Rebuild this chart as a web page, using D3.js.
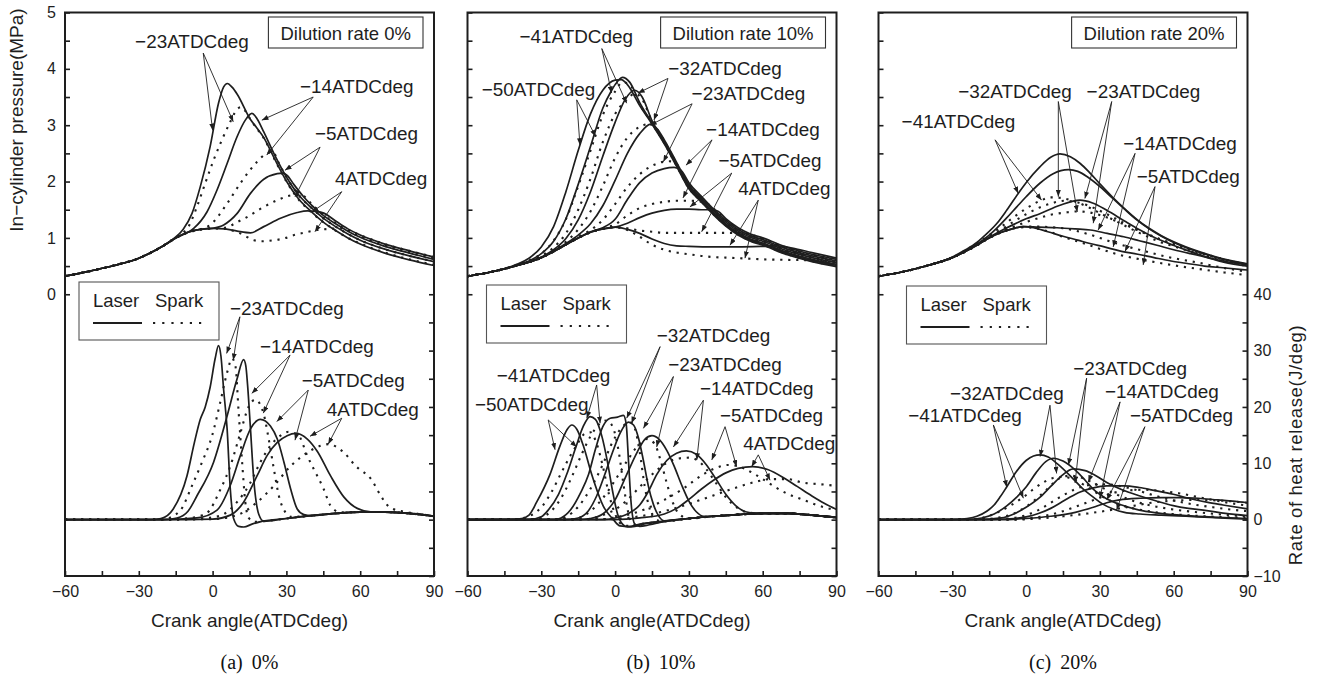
<!DOCTYPE html>
<html><head><meta charset="utf-8">
<script src="https://cdn.jsdelivr.net/npm/d3@7"></script>
<style>body{margin:0;background:#fff}svg{display:block}</style>
</head><body>
<svg id="chart" width="1317" height="682"></svg>
<script>
// ---------- ticks / labels ----------
const crankTicks = [-60,-45,-30,-15,0,15,30,45,60,75,90];
const crankLabels = [-60,-30,0,30,60,90];
const pressureTicks = [0,0.5,1,1.5,2,2.5,3,3.5,4,4.5,5];
const pressureLabels = [0,1,2,3,4,5];
const heatTicks = [-10,-5,0,5,10,15,20,25,30,35,40];
const heatLabels = [-10,0,10,20,30,40];
const dilutionLabels = ["Dilution rate 0%","Dilution rate 10%","Dilution rate 20%"];
const panelCaptions = ["(a) 0%","(b) 10%","(c) 20%"];
const legendNames = ["Laser","Spark"];
const xTitle = "Crank angle(ATDCdeg)";
const yLeftTitle = "In\u2212cylinder pressure(MPa)";
const yRightTitle = "Rate of heat release(J/deg)";

// ---------- panel (a) 0% : pressure [crank angle, MPa] ----------
const pA_laser_m23=[[-60,0.32],[-50,0.41],[-40,0.51],[-30,0.64],[-25,0.74],[-20,0.86],[-16,0.98],[-12,1.15],[-8.4,1.43],[-5,1.91],[-1,2.62],[2.4,3.39],[4.5,3.68],[6,3.74],[8,3.67],[10,3.55],[15.4,3.10],[18,2.95],[20.8,2.78],[25,2.42],[30,2.01],[35,1.69],[40,1.47],[45,1.28],[50,1.13],[55,1.00],[60,0.89],[70,0.73],[80,0.61],[90,0.51]];
const pA_laser_m14=[[-60,0.32],[-50,0.41],[-40,0.51],[-30,0.64],[-25,0.74],[-20,0.86],[-15,1.00],[-10,1.10],[-7.7,1.17],[-2.3,1.46],[1.8,1.85],[5.9,2.32],[9.9,2.79],[13.3,3.09],[16,3.21],[18,3.12],[20.8,2.88],[25,2.49],[30,2.08],[35,1.76],[40,1.54],[45,1.35],[50,1.20],[55,1.07],[60,0.96],[70,0.80],[80,0.68],[90,0.58]];
const pA_laser_m5=[[-60,0.32],[-50,0.41],[-40,0.51],[-30,0.64],[-25,0.74],[-20,0.86],[-15,1.00],[-10,1.10],[-5,1.15],[0,1.17],[4.5,1.23],[9.9,1.43],[15.4,1.79],[20.8,2.04],[26.3,2.14],[28.5,2.15],[30.3,2.11],[33,1.95],[37,1.73],[40,1.59],[45,1.40],[50,1.25],[55,1.12],[60,1.01],[70,0.85],[80,0.73],[90,0.62]];
const pA_laser_4=[[-60,0.32],[-50,0.41],[-40,0.51],[-30,0.64],[-25,0.74],[-20,0.86],[-15,1.00],[-10,1.10],[-5,1.15],[0,1.17],[5,1.16],[10,1.12],[15.4,1.09],[20.8,1.20],[27.6,1.35],[34.4,1.45],[38.5,1.48],[42,1.47],[45.2,1.44],[50,1.30],[55,1.16],[60,1.05],[70,0.89],[80,0.77],[90,0.66]];
const pA_spark_m23=[[-60,0.32],[-50,0.41],[-40,0.51],[-30,0.64],[-25,0.74],[-20,0.86],[-15,1.00],[-12,1.09],[-9.8,1.20],[-6.4,1.55],[-3,1.97],[0.4,2.38],[3.8,2.74],[7.2,3.06],[9.7,3.27],[11.5,3.32],[13.5,3.24],[15.4,3.10],[18,2.94],[20.8,2.77],[25,2.41],[30,2.00],[35,1.68],[40,1.46],[45,1.28],[50,1.13],[55,1.00],[60,0.90],[70,0.74],[80,0.62],[90,0.52]];
const pA_spark_m14=[[-60,0.32],[-50,0.41],[-40,0.51],[-30,0.64],[-25,0.74],[-20,0.86],[-15,1.00],[-10,1.10],[-5,1.15],[-1,1.23],[5.9,1.61],[11.3,1.97],[18.1,2.35],[22,2.50],[24.5,2.52],[27,2.32],[30,2.08],[35,1.76],[40,1.54],[45,1.35],[50,1.20],[55,1.07],[60,0.96],[70,0.80],[80,0.68],[90,0.58]];
const pA_spark_m5=[[-60,0.32],[-50,0.41],[-40,0.51],[-30,0.64],[-25,0.74],[-20,0.86],[-15,1.00],[-10,1.10],[-5,1.15],[0,1.17],[5,1.18],[10,1.28],[14,1.37],[20.8,1.55],[26.3,1.67],[33.1,1.76],[36,1.76],[38,1.71],[40,1.61],[45,1.41],[50,1.26],[55,1.13],[60,1.02],[70,0.86],[80,0.74],[90,0.63]];
const pA_spark_4=[[-60,0.32],[-50,0.41],[-40,0.51],[-30,0.64],[-25,0.74],[-20,0.86],[-15,1.00],[-10,1.10],[-5,1.15],[0,1.17],[5,1.16],[8,1.13],[11.3,1.08],[16.8,0.96],[20,0.94],[24.9,0.96],[29,0.99],[33.1,1.05],[37,1.09],[42.6,1.14],[47.9,1.16],[51,1.17],[55,1.14],[60,1.05],[70,0.89],[80,0.77],[90,0.66]];
// ---------- panel (a) : heat release [crank angle, J/deg] ----------
const hA_laser_m23=[[-60,0],[-40,0],[-25,0],[-21,0.2],[-16,1.9],[-10.4,7.8],[-7.5,13.5],[-5,17.8],[-3,20.0],[-1,23.5],[1,28.5],[2.4,30.9],[3.4,29.0],[4.5,23.0],[5.9,16.1],[7.2,5.4],[8.6,0.1],[10.6,-1.2],[12.7,-1.3],[16,-0.8],[20,-0.3],[30,0.2],[40,0.7],[50,1.1],[60,1.35],[70,1.35],[80,1.1],[90,0.6]];
const hA_laser_m14=[[-60,0],[-40,0],[-20,0],[-14.5,0.3],[-10,1.5],[-6.4,4.2],[0.4,10.2],[5.9,18.4],[9.9,24.9],[12.6,28.4],[13.5,27.3],[14.2,24.0],[15.4,16.1],[16.7,7.3],[18.8,0.9],[20.8,-0.3],[30,0.2],[40,0.7],[50,1.1],[60,1.35],[70,1.35],[80,1.1],[90,0.6]];
const hA_laser_m5=[[-60,0],[-40,0],[-20,0],[-6.4,0.3],[1.8,1.7],[7.2,6.1],[11.3,11.4],[15.4,16.1],[19.4,17.8],[23.5,16.6],[26.3,14.3],[29,10.2],[31.7,5.5],[34.4,1.9],[37.1,0.9],[40,0.7],[50,1.1],[60,1.35],[70,1.35],[80,1.1],[90,0.6]];
const hA_laser_4=[[-60,0],[-40,0],[-20,0],[0,0.1],[7.2,0.8],[12.6,3.1],[18.1,7.8],[22.2,11.4],[26.3,13.7],[30.3,14.9],[33.8,15.3],[38.5,14.3],[42.6,12.1],[47.9,7.8],[53.4,4.0],[58.8,2.0],[64.2,1.4],[70,1.35],[80,1.1],[90,0.6]];
const hA_spark_m23=[[-60,0],[-40,0],[-25,0],[-19.8,0.1],[-13.2,1.6],[-8.4,6.0],[-4.3,10.2],[-0.2,14.9],[3.1,20.8],[5.9,26.1],[7.9,28.6],[9.3,27.2],[10.6,19.0],[12.0,10.2],[13.3,3.1],[14.7,0.3],[17,-0.4],[20,-0.3],[30,0.2],[40,0.7],[50,1.1],[60,1.35],[70,1.35],[80,1.1],[90,0.6]];
const hA_spark_m14=[[-60,0],[-40,0],[-20,0],[-9,0.3],[-2.3,1.2],[3.1,5.3],[7.2,9.5],[11.3,15.4],[14.7,20.1],[17.4,21.3],[20.8,18.7],[22.8,14.3],[24.9,9.0],[26.9,4.3],[29.6,1.3],[32,0.5],[40,0.7],[50,1.1],[60,1.35],[70,1.35],[80,1.1],[90,0.6]];
const hA_spark_m5=[[-60,0],[-40,0],[-20,0],[-5,0.2],[3.1,0.7],[9.9,3.1],[15.4,6.6],[19.4,10.2],[23.5,13.1],[27.6,14.9],[31,15.6],[35,14.9],[38.5,11.3],[41.1,9.0],[45.2,5.4],[47.9,2.5],[52,1.3],[60,1.35],[70,1.35],[80,1.1],[90,0.6]];
const hA_spark_4=[[-60,0],[-40,0],[-20,0],[0,0.1],[9.9,0.8],[18.1,3.1],[24.9,6.0],[31.7,9.5],[38.5,11.9],[43.9,13.1],[47.3,13.4],[50,13.0],[53.4,11.9],[58,9.6],[64.9,6.9],[68,4.5],[72,2.2],[78,1.4],[84,1.0],[90,0.6]];

// ---------- panel (b) 10% : pressure ----------
const pB_laser_m50=[[-60,0.32],[-50,0.40],[-45,0.45],[-40,0.53],[-35,0.64],[-30,0.84],[-25,1.20],[-20,1.82],[-15,2.55],[-10,3.20],[-5,3.62],[0,3.80],[2.5,3.81],[5,3.72],[10,3.35],[15,3.02],[20,2.67],[25,2.27],[30,1.87],[35,1.64],[40,1.41],[45,1.21],[50,1.05],[55,0.94],[60,0.87],[70,0.70],[80,0.58],[90,0.49]];
const pB_laser_m41=[[-60,0.32],[-50,0.40],[-40,0.51],[-35,0.59],[-30,0.72],[-25,0.94],[-20,1.34],[-15,1.95],[-10,2.62],[-5,3.30],[-1.4,3.62],[0,3.72],[3,3.85],[6,3.76],[10,3.40],[15,3.04],[20,2.69],[25,2.29],[30,1.89],[35,1.66],[40,1.43],[45,1.23],[50,1.07],[55,0.96],[60,0.89],[70,0.72],[80,0.60],[90,0.51]];
const pB_laser_m32=[[-60,0.32],[-50,0.40],[-40,0.51],[-30,0.66],[-25,0.79],[-20,0.99],[-15,1.32],[-10,1.82],[-5,2.45],[0,3.05],[4,3.45],[8,3.62],[11,3.50],[15,3.08],[20,2.71],[25,2.31],[30,1.91],[35,1.68],[40,1.45],[45,1.25],[50,1.09],[55,0.98],[60,0.91],[70,0.74],[80,0.62],[90,0.53]];
const pB_laser_m23=[[-60,0.32],[-50,0.40],[-40,0.51],[-30,0.65],[-20,0.90],[-15,1.05],[-10,1.25],[-5,1.57],[0,2.02],[5,2.50],[10,2.85],[14.5,3.02],[17,2.94],[20,2.74],[25,2.34],[30,1.94],[35,1.71],[40,1.48],[45,1.28],[50,1.12],[55,1.01],[60,0.94],[70,0.77],[80,0.65],[90,0.56]];
const pB_laser_m14=[[-60,0.32],[-50,0.40],[-40,0.51],[-30,0.65],[-20,0.88],[-15,1.00],[-10,1.11],[-5,1.18],[0,1.33],[5,1.68],[10,1.98],[15,2.15],[20,2.23],[24,2.25],[27,2.19],[30,1.98],[35,1.74],[40,1.51],[45,1.31],[50,1.15],[55,1.04],[60,0.97],[70,0.80],[80,0.68],[90,0.59]];
const pB_laser_m5=[[-60,0.32],[-50,0.40],[-40,0.51],[-30,0.65],[-20,0.88],[-15,1.00],[-10,1.10],[-5,1.16],[0,1.19],[5,1.26],[10,1.36],[15,1.44],[20,1.49],[25,1.51],[30,1.51],[35,1.50],[40,1.50],[42,1.47],[45,1.34],[50,1.18],[55,1.07],[60,1.00],[70,0.83],[80,0.71],[90,0.62]];
const pB_laser_4=[[-60,0.32],[-50,0.40],[-40,0.51],[-30,0.65],[-20,0.88],[-15,1.00],[-10,1.10],[-5,1.16],[0,1.19],[5,1.15],[10,1.08],[15,0.98],[20,0.90],[25,0.86],[30,0.85],[40,0.84],[50,0.84],[60,0.85],[66,0.86],[72,0.82],[80,0.74],[90,0.64]];
const pB_spark_m50=[[-60,0.32],[-50,0.40],[-40,0.52],[-35,0.60],[-30,0.72],[-25,0.95],[-20,1.33],[-15,1.92],[-10,2.55],[-5,3.18],[0,3.60],[3,3.76],[5.5,3.74],[10,3.37],[15,3.03],[20,2.68],[25,2.28],[30,1.88],[35,1.65],[40,1.42],[45,1.22],[50,1.06],[55,0.95],[60,0.88],[70,0.71],[80,0.59],[90,0.50]];
const pB_spark_m41=[[-60,0.32],[-50,0.40],[-40,0.51],[-30,0.68],[-25,0.83],[-20,1.08],[-15,1.50],[-10,2.05],[-5,2.70],[0,3.20],[4.7,3.45],[8,3.56],[11,3.46],[15,3.06],[20,2.70],[25,2.30],[30,1.90],[35,1.67],[40,1.44],[45,1.24],[50,1.08],[55,0.97],[60,0.90],[70,0.73],[80,0.61],[90,0.52]];
const pB_spark_m32=[[-60,0.32],[-50,0.40],[-40,0.51],[-30,0.65],[-25,0.77],[-20,0.93],[-15,1.15],[-10,1.47],[-5,1.92],[0,2.42],[5,2.78],[10,2.97],[14,3.02],[17,2.93],[20,2.72],[25,2.32],[30,1.92],[35,1.69],[40,1.46],[45,1.26],[50,1.10],[55,0.99],[60,0.92],[70,0.75],[80,0.63],[90,0.54]];
const pB_spark_m23=[[-60,0.32],[-50,0.40],[-40,0.51],[-30,0.65],[-20,0.89],[-15,1.02],[-10,1.14],[-5,1.32],[0,1.60],[5,1.90],[10,2.13],[15,2.28],[19.6,2.35],[22,2.36],[24,2.35],[26,2.24],[30,1.95],[35,1.72],[40,1.49],[45,1.29],[50,1.13],[55,1.02],[60,0.95],[70,0.78],[80,0.66],[90,0.57]];
const pB_spark_m14=[[-60,0.32],[-50,0.40],[-40,0.51],[-30,0.65],[-20,0.88],[-15,1.00],[-10,1.10],[-5,1.17],[0,1.24],[5,1.40],[10,1.53],[15,1.60],[20,1.64],[25,1.66],[30,1.66],[34,1.65],[37,1.62],[40,1.52],[45,1.32],[50,1.16],[55,1.05],[60,0.98],[70,0.81],[80,0.69],[90,0.60]];
const pB_spark_m5=[[-60,0.32],[-50,0.40],[-40,0.51],[-30,0.65],[-20,0.88],[-15,1.00],[-10,1.10],[-5,1.16],[0,1.19],[5,1.17],[10,1.13],[15,1.11],[20,1.09],[30,1.09],[40,1.09],[50,1.09],[53,1.08],[55,1.06],[60,0.99],[70,0.82],[80,0.70],[90,0.61]];
const pB_spark_4=[[-60,0.32],[-50,0.40],[-40,0.51],[-30,0.65],[-20,0.88],[-15,1.00],[-10,1.10],[-5,1.16],[0,1.19],[5,1.14],[10,1.02],[15,0.88],[20,0.79],[25,0.74],[30,0.71],[35,0.68],[40,0.66],[45,0.65],[50,0.64],[55,0.63],[60,0.62],[70,0.61],[80,0.60],[90,0.57]];
// ---------- panel (b) : heat release ----------
const hB_laser_m50=[[-60,0],[-45,0],[-38,0.2],[-35,0.8],[-31.9,3.1],[-26.5,8.0],[-22.4,13.1],[-19.5,16.0],[-17.6,16.8],[-15.5,16.0],[-12.9,13.1],[-9.5,8.0],[-4.8,2.4],[-0.7,0],[2,-1.1],[6,-1.2],[10,-0.8],[20,-0.3],[30,0.2],[40,0.6],[50,0.9],[60,1.1],[70,1.1],[80,0.8],[90,0.4]];
const hB_laser_m41=[[-60,0],[-35,0],[-30,0.5],[-27,1.8],[-23,4.5],[-19.7,8.0],[-16,12.8],[-13,16.5],[-10.2,18.3],[-8,17.8],[-5.5,15.0],[-3,10.0],[-1,5.0],[1,1.0],[3,-0.8],[5,-1.3],[8,-1.2],[12,-0.7],[20,-0.3],[30,0.2],[40,0.6],[50,0.9],[60,1.1],[70,1.1],[80,0.8],[90,0.4]];
const hB_laser_m32=[[-60,0],[-25,0],[-22,0.3],[-18,1.8],[-14,4.8],[-10.8,8.0],[-8,12.5],[-5,16.5],[-2,18.0],[1,18.2],[3.4,18.5],[4.5,17.0],[5.5,10.0],[6.5,3.0],[8,-0.8],[10,-1.2],[14,-0.9],[20,-0.3],[30,0.2],[40,0.6],[50,0.9],[60,1.1],[70,1.1],[80,0.8],[90,0.4]];
const hB_laser_m23=[[-60,0],[-20,0],[-15,0.3],[-11,1.5],[-7.5,4.2],[-4.2,8.0],[-1,12.0],[2,15.3],[5.4,17.3],[7.5,16.8],[9.5,14.5],[11.5,10.5],[13.5,6.0],[15.5,2.8],[17.5,0.8],[20,-0.2],[30,0.2],[40,0.6],[50,0.9],[60,1.1],[70,1.1],[80,0.8],[90,0.4]];
const hB_laser_m14=[[-60,0],[-15,0],[-10,0.2],[-5,1.0],[0,3.5],[4.7,8.0],[9,12.0],[12,14.2],[15,14.9],[18,14.2],[21,12.3],[24,9.5],[27,6.2],[30,3.3],[33,1.4],[36,0.6],[40,0.6],[50,0.9],[60,1.1],[70,1.1],[80,0.8],[90,0.4]];
const hB_laser_m5=[[-60,0],[-5,0],[0,0.3],[5,1.0],[10,2.6],[13.5,5.0],[16.9,8.0],[21,10.5],[25,11.8],[29,12.2],[33,11.6],[37,9.8],[41,7.2],[45,4.5],[49,2.5],[53,1.4],[58,1.1],[70,1.1],[80,0.8],[90,0.4]];
const hB_laser_4=[[-60,0],[0,0],[10,0.3],[20,1.0],[25,2.0],[30,3.6],[35,5.4],[40,7.0],[45,8.3],[50,9.1],[56,9.4],[62,8.9],[69,7.3],[74,5.9],[80,4.2],[85,2.9],[90,1.8]];
const hB_spark_m50=[[-60,0],[-42,0],[-34,0.8],[-30,2.2],[-26,4.8],[-22,8.2],[-18,11.5],[-15.6,13.2],[-12.5,15.2],[-10,15.5],[-7.5,13.5],[-5,9.5],[-2.5,4.5],[0,1.0],[2.5,-0.8],[5,-1.1],[10,-0.8],[20,-0.3],[30,0.2],[40,0.6],[50,0.9],[60,1.1],[70,1.1],[80,0.8],[90,0.4]];
const hB_spark_m41=[[-60,0],[-35,0],[-30,0.4],[-26,1.5],[-22,3.8],[-18,7.2],[-14,11.2],[-10,14.8],[-6.1,17.1],[-3.5,17.6],[-1,16.5],[1.5,12.0],[3.5,6.0],[5,2.0],[6.5,-0.5],[8,-1.1],[12,-0.8],[20,-0.3],[30,0.2],[40,0.6],[50,0.9],[60,1.1],[70,1.1],[80,0.8],[90,0.4]];
const hB_spark_m32=[[-60,0],[-25,0],[-20,0.5],[-15,2.3],[-10,5.5],[-5,9.8],[-1,13.8],[3,16.5],[6,17.3],[8,16.2],[10,12.0],[12,6.0],[14,2.0],[16,0],[20,-0.3],[30,0.2],[40,0.6],[50,0.9],[60,1.1],[70,1.1],[80,0.8],[90,0.4]];
const hB_spark_m23=[[-60,0],[-20,0],[-15,0.3],[-10,1.5],[-5,3.8],[0,7.0],[5,10.5],[10,13.5],[13,14.3],[16,13.5],[18.5,10.5],[21,6.5],[23.5,3.0],[26,1.0],[30,0.2],[40,0.6],[50,0.9],[60,1.1],[70,1.1],[80,0.8],[90,0.4]];
const hB_spark_m14=[[-60,0],[-15,0],[-10,0.2],[-5,0.8],[0,1.8],[5,3.5],[10,5.8],[15,8.0],[20,9.8],[25,10.8],[30,11.0],[33.2,10.6],[37,9.0],[41,6.5],[45,4.0],[50,2.0],[55,1.2],[60,1.1],[70,1.1],[80,0.8],[90,0.4]];
const hB_spark_m5=[[-60,0],[-5,0.1],[0,0.4],[10,1.5],[20,3.5],[28,5.6],[35,7.8],[40,9.0],[46,9.7],[50,9.5],[55,8.5],[60,7.2],[65,5.8],[70,4.6],[76,3.6],[82,2.6],[90,1.6]];
const hB_spark_4=[[-60,0],[0,0.1],[10,0.6],[20,1.5],[30,2.8],[40,4.3],[50,5.8],[57,6.7],[63,7.2],[70,7.2],[76,6.6],[83,6.3],[90,6.0]];

// ---------- panel (c) 20% : pressure ----------
const pC_laser_m41=[[-60,0.32],[-50,0.40],[-40,0.51],[-30,0.66],[-25,0.78],[-20,0.92],[-17.4,1.02],[-12,1.25],[-7.9,1.49],[-3.2,1.79],[0,1.98],[5.6,2.26],[10,2.43],[13.8,2.49],[18,2.44],[22,2.32],[26,2.15],[30,1.96],[35,1.73],[40,1.52],[45,1.33],[50,1.17],[55,1.04],[60,0.93],[70,0.76],[80,0.63],[90,0.54]];
const pC_laser_m32=[[-60,0.32],[-50,0.40],[-40,0.51],[-30,0.65],[-25,0.76],[-20,0.89],[-15,1.05],[-12,1.17],[-8,1.35],[-3.8,1.55],[0,1.73],[5.6,1.97],[11,2.14],[17.2,2.21],[21,2.18],[25,2.08],[30,1.91],[35,1.71],[40,1.51],[45,1.32],[50,1.16],[55,1.03],[60,0.92],[70,0.75],[80,0.62],[90,0.53]];
const pC_laser_m23=[[-60,0.32],[-50,0.40],[-40,0.51],[-30,0.65],[-20,0.88],[-15,1.01],[-10,1.13],[-5,1.24],[0,1.34],[5.6,1.43],[13.8,1.58],[21.9,1.67],[27,1.62],[32.8,1.49],[40,1.30],[46.3,1.14],[52,1.01],[59.8,0.87],[66,0.77],[73.4,0.66],[80,0.59],[90,0.52]];
const pC_laser_m14=[[-60,0.32],[-50,0.40],[-40,0.51],[-30,0.65],[-20,0.87],[-15,1.00],[-10,1.10],[-5,1.17],[-1,1.20],[5,1.19],[12.6,1.18],[20,1.16],[26.1,1.14],[33,1.08],[39.7,1.02],[46,0.95],[53.2,0.87],[60,0.79],[66.8,0.72],[73,0.66],[80.3,0.57],[90,0.50]];
const pC_laser_m5=[[-60,0.32],[-50,0.40],[-40,0.51],[-30,0.65],[-20,0.87],[-15,1.00],[-10,1.10],[-5,1.17],[-1,1.20],[3,1.18],[8.8,1.11],[15,1.03],[21,0.96],[26,0.90],[31.8,0.84],[38,0.77],[45.4,0.71],[52,0.65],[58.9,0.59],[65,0.55],[72.5,0.50],[80,0.47],[90,0.43]];
const pC_spark_m41=[[-60,0.32],[-50,0.40],[-40,0.51],[-30,0.65],[-25,0.77],[-20,0.90],[-15,1.05],[-10,1.20],[-5,1.37],[0,1.52],[6.3,1.67],[10,1.72],[14,1.71],[18,1.67],[22,1.61],[26,1.53],[30,1.44],[35,1.33],[40,1.22],[45,1.11],[50,1.01],[55,0.92],[60,0.85],[70,0.72],[80,0.61],[90,0.53]];
const pC_spark_m32=[[-60,0.32],[-50,0.40],[-40,0.51],[-30,0.65],[-20,0.88],[-15,1.02],[-10,1.15],[-5,1.29],[0,1.42],[5,1.53],[10,1.61],[16,1.66],[21,1.63],[26,1.56],[31,1.46],[37,1.33],[43,1.19],[50,1.05],[57,0.93],[65,0.81],[75,0.68],[90,0.52]];
const pC_spark_m23=[[-60,0.32],[-50,0.40],[-40,0.51],[-30,0.65],[-20,0.87],[-15,1.00],[-10,1.11],[-5,1.20],[0,1.28],[5,1.35],[10,1.41],[16,1.45],[21,1.47],[26,1.45],[31,1.39],[36,1.31],[42,1.20],[48,1.09],[55,0.97],[62,0.86],[70,0.75],[80,0.62],[90,0.49]];
const pC_spark_m14=[[-60,0.32],[-50,0.40],[-40,0.51],[-30,0.65],[-20,0.87],[-15,1.00],[-10,1.10],[-5,1.17],[0,1.20],[5,1.20],[10,1.19],[15,1.17],[20,1.13],[25,1.07],[30,1.00],[35.4,0.92],[40,0.86],[46,0.79],[53,0.71],[60,0.64],[70,0.56],[80,0.47],[90,0.40]];
const pC_spark_m5=[[-60,0.32],[-50,0.40],[-40,0.51],[-30,0.65],[-20,0.87],[-15,1.00],[-10,1.10],[-5,1.17],[0,1.19],[5,1.16],[10,1.10],[15,1.02],[20,0.95],[25,0.88],[31.8,0.78],[38,0.70],[46.3,0.62],[55,0.55],[62,0.50],[70,0.45],[80,0.39],[90,0.34]];
// ---------- panel (c) : heat release ----------
const hC_laser_m41=[[-60,0],[-30,0],[-24,0.2],[-20,0.6],[-16,1.5],[-13,2.6],[-10.6,4.0],[-7.9,5.8],[-4,8.5],[0,10.5],[3,11.3],[5.7,11.5],[9,11.1],[13,9.8],[19.2,7.2],[23,5.5],[27.3,4.0],[31,2.8],[35.4,1.9],[40,1.3],[46.3,1.0],[55,0.8],[65,0.6],[75,0.4],[90,0.1]];
const hC_laser_m32=[[-60,0],[-25,0],[-18,0.3],[-13,1.0],[-8,2.4],[-3.8,4.0],[0,5.8],[4,8.3],[8,10.3],[11.1,10.9],[15,10.4],[20,8.8],[24,7.0],[27.3,5.4],[32,3.9],[39.5,2.5],[46,1.7],[53.1,1.2],[65,0.7],[78,0.4],[90,0.2]];
const hC_laser_m23=[[-60,0],[-20,0],[-10,0.3],[-5,1.0],[0,2.2],[5.7,4.0],[10,5.9],[14,7.6],[19.2,9.0],[24,8.7],[28,7.9],[32.8,6.6],[39,5.3],[46.3,4.2],[53,3.3],[59.8,2.5],[66,2.0],[73.4,1.6],[81,1.1],[90,0.7]];
const hC_laser_m14=[[-60,0],[-15,0],[-5,0.2],[0,0.5],[5,1.1],[10,2.0],[14,3.0],[17.9,4.0],[22,4.9],[27,5.6],[32.8,6.0],[40,6.0],[46,5.7],[52,5.2],[59.8,4.5],[66,3.8],[73.4,3.1],[80,2.6],[90,1.9]];
const hC_laser_m5=[[-60,0],[-10,0],[0,0.2],[10,0.6],[20,1.3],[28,2.3],[32.8,3.0],[38,3.5],[46.3,3.8],[55,3.9],[62,3.9],[70,3.8],[78,3.5],[84,3.3],[90,3.0]];
const hC_spark_m41=[[-60,0],[-25,0],[-18,0.3],[-12,1.2],[-6,2.6],[-1.1,4.0],[3,5.4],[7,6.6],[11,7.4],[15,7.6],[19,7.2],[23,6.3],[27,5.2],[31,4.1],[35,3.2],[40,2.4],[47,1.7],[55,1.2],[65,0.8],[77,0.5],[90,0.3]];
const hC_spark_m32=[[-60,0],[-20,0],[-12,0.3],[-5,1.1],[0,2.3],[5,4.0],[9,5.6],[12.4,7.0],[15,7.6],[18,7.8],[22,7.5],[26,6.8],[30,5.9],[35,4.8],[40,3.9],[46,3.0],[53,2.3],[60,1.8],[70,1.3],[80,0.9],[90,0.6]];
const hC_spark_m23=[[-60,0],[-15,0],[-5,0.3],[0,0.8],[5,1.7],[10,3.0],[15,4.3],[19.9,5.4],[25,6.1],[30,6.3],[35,6.2],[40,5.8],[46,5.1],[52,4.3],[60,3.4],[68,2.7],[76,2.2],[83,1.8],[90,1.5]];
const hC_spark_m14=[[-60,0],[-10,0],[0,0.2],[8,0.7],[15,1.5],[22,2.6],[30,3.9],[36,4.8],[42,5.2],[48,5.3],[55,5.1],[62,4.7],[70,4.0],[78,3.3],[85,2.8],[90,2.5]];
const hC_spark_m5=[[-60,0],[-5,0],[5,0.2],[15,0.6],[25,1.1],[30,1.4],[36.8,1.9],[42,2.3],[48,2.8],[55,3.2],[62,3.4],[70,3.5],[78,3.4],[85,3.2],[90,3.0]];

// ---------- annotations: label baseline-start, leader origin, arrow tips (data units) ----------
const annA_top=[
 {t:"\u221223ATDCdeg",at:[-31.5,4.37],from:[-3.8,4.28],to:[[0.0,2.91],[8.4,3.06]]},
 {t:"\u221214ATDCdeg",at:[35.5,3.57],from:[40.9,3.50],to:[[20.0,3.09],[22.0,2.47]]},
 {t:"\u22125ATDCdeg",at:[41.6,2.74],from:[43.7,2.61],to:[[29.4,2.20],[33.5,1.73]]},
 {t:"4ATDCdeg",at:[49.8,1.94],from:[52.5,1.82],to:[[40.3,1.46],[41.6,1.11]]}];
const annA_bottom=[
 {t:"\u221223ATDCdeg",at:[7.1,36.3],from:[11.1,36.0],to:[[5.7,29.5],[8.4,28.3]]},
 {t:"\u221214ATDCdeg",at:[19.3,29.5],from:[31.5,29.2],to:[[15.9,22.4],[20.6,18.9]]},
 {t:"\u22125ATDCdeg",at:[36.2,23.6],from:[38.9,23.0],to:[[26.1,17.4],[33.5,14.1]]},
 {t:"4ATDCdeg",at:[46.4,18.4],from:[52.5,18.0],to:[[39.6,14.8],[47.0,13.4]]}];
const annB_top=[
 {t:"\u221241ATDCdeg",at:[-38.9,4.46],from:[-5.4,4.36],to:[[-1.4,3.57],[4.7,3.39]]},
 {t:"\u221250ATDCdeg",at:[-54.2,3.52],from:[-15.6,3.45],to:[[-14.3,2.65],[-7.9,2.80]]},
 {t:"\u221232ATDCdeg",at:[21.6,3.89],from:[21.5,3.83],to:[[9.3,3.57],[15.8,3.09]]},
 {t:"\u221223ATDCdeg",at:[31.1,3.45],from:[31.3,3.38],to:[[14.2,3.00],[19.6,2.35]]},
 {t:"\u221214ATDCdeg",at:[37.0,2.80],from:[39.4,2.74],to:[[28.8,2.29],[27.6,1.71]]},
 {t:"\u22125ATDCdeg",at:[42.0,2.26],from:[47.4,2.15],to:[[30.4,1.55],[35.2,1.11]]},
 {t:"4ATDCdeg",at:[50.1,1.76],from:[58.2,1.67],to:[[46.7,0.87],[52.8,0.64]]}];
const annB_bottom=[
 {t:"\u221232ATDCdeg",at:[16.9,31.6],from:[18.3,30.7],to:[[4.7,18.0],[6.7,17.1]]},
 {t:"\u221241ATDCdeg",at:[-48.1,24.5],from:[-7.5,23.9],to:[[-11.5,18.0],[-6.1,17.1]]},
 {t:"\u221223ATDCdeg",at:[21.6,26.3],from:[23.7,25.4],to:[[11.5,16.2],[16.9,12.9]]},
 {t:"\u221214ATDCdeg",at:[34.5,22.1],from:[35.9,21.2],to:[[23.7,12.9],[33.2,10.6]]},
 {t:"\u22125ATDCdeg",at:[42.6,17.4],from:[44.7,16.5],to:[[39.3,10.6],[49.4,9.4]]},
 {t:"4ATDCdeg",at:[52.1,12.4],from:[58.2,11.5],to:[[55.5,9.4],[63.0,7.0]]},
 {t:"\u221250ATDCdeg",at:[-57.0,19.2],from:[-27.2,17.7],to:[[-24.4,12.4],[-15.6,12.9]]}];
const annC_top=[
 {t:"\u221232ATDCdeg",at:[-27.6,3.48],from:[13.1,3.42],to:[[13.1,1.73],[20.8,1.46]]},
 {t:"\u221223ATDCdeg",at:[24.6,3.48],from:[34.8,3.42],to:[[23.9,1.70],[27.3,1.26]]},
 {t:"\u221241ATDCdeg",at:[-50.6,2.95],from:[-12.6,2.74],to:[[-3.2,1.79],[6.3,1.67]]},
 {t:"\u221214ATDCdeg",at:[39.5,2.56],from:[44.3,2.50],to:[[29.3,1.14],[35.4,0.84]]},
 {t:"\u22125ATDCdeg",at:[45.0,1.97],from:[52.4,1.91],to:[[40.2,0.76],[47.6,0.52]]}];
const annC_bottom=[
 {t:"\u221223ATDCdeg",at:[19.2,25.7],from:[24.6,25.1],to:[[17.2,9.7],[19.9,6.5]]},
 {t:"\u221232ATDCdeg",at:[-30.9,21.2],from:[9.7,20.3],to:[[5.7,11.2],[12.4,8.2]]},
 {t:"\u221214ATDCdeg",at:[32.1,21.5],from:[38.2,20.9],to:[[25.3,6.7],[30.0,3.8]]},
 {t:"\u221241ATDCdeg",at:[-47.9,17.4],from:[-13.3,16.8],to:[[-7.9,5.8],[-1.1,3.8]]},
 {t:"\u22125ATDCdeg",at:[42.2,17.4],from:[48.3,16.5],to:[[32.8,3.5],[36.8,1.7]]}];

// ---------- assemble panels ----------
const panels=[
 {left:65, dil:dilutionLabels[0], cap:panelCaptions[0], capDx:0, leftLabels:true, rightLabels:false, legendDx:14, legendTop:282,
  pL:[pA_laser_m23,pA_laser_m14,pA_laser_m5,pA_laser_4], pS:[pA_spark_m23,pA_spark_m14,pA_spark_m5,pA_spark_4],
  hL:[hA_laser_m23,hA_laser_m14,hA_laser_m5,hA_laser_4], hS:[hA_spark_m23,hA_spark_m14,hA_spark_m5,hA_spark_4],
  annTop:annA_top, annBot:annA_bottom},
 {left:467.5, dil:dilutionLabels[1], cap:panelCaptions[1], capDx:9, leftLabels:false, rightLabels:false, legendDx:19, legendTop:285,
  pL:[pB_laser_m50,pB_laser_m41,pB_laser_m32,pB_laser_m23,pB_laser_m14,pB_laser_m5,pB_laser_4],
  pS:[pB_spark_m50,pB_spark_m41,pB_spark_m32,pB_spark_m23,pB_spark_m14,pB_spark_m5,pB_spark_4],
  hL:[hB_laser_m50,hB_laser_m41,hB_laser_m32,hB_laser_m23,hB_laser_m14,hB_laser_m5,hB_laser_4],
  hS:[hB_spark_m50,hB_spark_m41,hB_spark_m32,hB_spark_m23,hB_spark_m14,hB_spark_m5,hB_spark_4],
  annTop:annB_top, annBot:annB_bottom},
 {left:878.5, dil:dilutionLabels[2], cap:panelCaptions[2], capDx:0, leftLabels:false, rightLabels:true, legendDx:28, legendTop:286,
  pL:[pC_laser_m41,pC_laser_m32,pC_laser_m23,pC_laser_m14,pC_laser_m5],
  pS:[pC_spark_m41,pC_spark_m32,pC_spark_m23,pC_spark_m14,pC_spark_m5],
  hL:[hC_laser_m41,hC_laser_m32,hC_laser_m23,hC_laser_m14,hC_laser_m5],
  hS:[hC_spark_m41,hC_spark_m32,hC_spark_m23,hC_spark_m14,hC_spark_m5],
  annTop:annC_top, annBot:annC_bottom}
];

// ---------- drawing ----------
const W=369, TOP=12.5, BOT=576;
const INK="#1e1e1e";
const SANS="'Liberation Sans', Arial, Helvetica, sans-serif";
const SERIF="'Liberation Serif','Times New Roman',serif";
const fmt=d=> d<0 ? "\u2212"+Math.abs(d) : String(d);
const svg=d3.select("#chart");
const defs=svg.append("defs");
defs.append("marker").attr("id","arr").attr("viewBox","0 0 8 6").attr("refX",8).attr("refY",3)
 .attr("markerWidth",7).attr("markerHeight",5).attr("markerUnits","userSpaceOnUse").attr("orient","auto")
 .append("path").attr("d","M0,0 L8,3 L0,6 Z").attr("fill",INK);

panels.forEach((p,i)=>{
  const x=d3.scaleLinear().domain([-60,90]).range([p.left,p.left+W]);
  const yP=d3.scaleLinear().domain([-5,5]).range([BOT,TOP]);
  const yH=d3.scaleLinear().domain([-10,90]).range([BOT,TOP]);
  const g=svg.append("g");
  defs.append("clipPath").attr("id","clip"+i).append("rect").attr("x",p.left).attr("y",TOP).attr("width",W).attr("height",BOT-TOP);

  // axes
  const ax=g.append("g").attr("transform",`translate(0,${BOT})`)
    .call(d3.axisBottom(x).tickValues(crankTicks).tickSizeInner(-5).tickSizeOuter(0).tickPadding(10)
      .tickFormat(d=>crankLabels.includes(d)?fmt(d):""));
  const al=g.append("g").attr("transform",`translate(${p.left},0)`)
    .call(d3.axisLeft(yP).tickValues(pressureTicks).tickSizeInner(-5).tickSizeOuter(0).tickPadding(9)
      .tickFormat(d=>p.leftLabels && pressureLabels.includes(d)?fmt(d):""));
  const ar=g.append("g").attr("transform",`translate(${p.left+W},0)`)
    .call(d3.axisRight(yH).tickValues(heatTicks).tickSizeInner(-5).tickSizeOuter(0).tickPadding(6)
      .tickFormat(d=>p.rightLabels && heatLabels.includes(d)?fmt(d):""));
  [ax,al,ar].forEach(a=>{
    a.select(".domain").remove();
    a.selectAll("line").attr("stroke",INK).attr("stroke-width",1.6);
    a.selectAll("text").attr("font-family",SANS).attr("font-size",16).attr("fill",INK);
  });

  // curves
  const cg=g.append("g").attr("clip-path",`url(#clip${i})`);
  const lp=d3.line().x(d=>x(d[0])).y(d=>yP(d[1])).curve(d3.curveMonotoneX);
  const lh=d3.line().x(d=>x(d[0])).y(d=>yH(d[1])).curve(d3.curveMonotoneX);
  const drawSet=(arr,gen,dashed)=>arr.forEach(s=>{
    cg.append("path").attr("d",gen(s)).attr("fill","none").attr("stroke",INK)
      .attr("stroke-width",dashed?2.1:1.7).attr("stroke-dasharray",dashed?"2.2 5.8":null)
      .attr("stroke-linejoin","round");
  });
  drawSet(p.pS,lp,true); drawSet(p.hS,lh,true);
  drawSet(p.pL,lp,false); drawSet(p.hL,lh,false);

  // frame
  g.append("rect").attr("x",p.left).attr("y",TOP).attr("width",W).attr("height",BOT-TOP)
   .attr("fill","none").attr("stroke",INK).attr("stroke-width",2);

  // annotations
  const annot=(list,ys)=>list.forEach(a=>{
    g.append("text").attr("x",x(a.at[0])).attr("y",ys(a.at[1])).text(a.t)
     .attr("font-family",SANS).attr("font-size",18.9).attr("fill",INK);
    a.to.forEach(t=>{
      g.append("line").attr("x1",x(a.from[0])).attr("y1",ys(a.from[1])).attr("x2",x(t[0])).attr("y2",ys(t[1]))
       .attr("stroke",INK).attr("stroke-width",0.9).attr("marker-end","url(#arr)");
    });
  });
  annot(p.annTop,yP); annot(p.annBot,yH);

  // dilution box
  const boxG=g.append("g");
  const boxRect=boxG.append("rect");
  const dt=boxG.append("text").text(p.dil).attr("font-family",SANS).attr("font-size",18.5).attr("fill",INK);
  const tw=dt.node().getComputedTextLength();
  const bw=tw+24, bx=p.left+W-11-bw, by=17;
  boxRect.attr("x",bx).attr("y",by).attr("width",bw).attr("height",31)
   .attr("fill","#fff").attr("stroke","#333").attr("stroke-width",1.1);
  dt.attr("x",bx+12).attr("y",by+23);

  // legend
  const lx=p.left+p.legendDx, ly=p.legendTop;
  g.append("rect").attr("x",lx).attr("y",ly).attr("width",140).attr("height",58)
   .attr("fill","#fff").attr("stroke","#555").attr("stroke-width",1.1);
  g.append("text").attr("x",lx+14).attr("y",ly+25).text(legendNames[0]).attr("font-family",SANS).attr("font-size",18.5).attr("fill",INK);
  g.append("text").attr("x",lx+76).attr("y",ly+25).text(legendNames[1]).attr("font-family",SANS).attr("font-size",18.5).attr("fill",INK);
  g.append("line").attr("x1",lx+14).attr("x2",lx+63).attr("y1",ly+41).attr("y2",ly+41).attr("stroke",INK).attr("stroke-width",1.8);
  g.append("line").attr("x1",lx+74).attr("x2",lx+124).attr("y1",ly+41).attr("y2",ly+41).attr("stroke",INK).attr("stroke-width",2.1).attr("stroke-dasharray","2.2 7");

  // x title and caption
  g.append("text").attr("x",p.left+W/2).attr("y",627).attr("text-anchor","middle").text(xTitle)
   .attr("font-family",SANS).attr("font-size",19).attr("fill",INK);
  g.append("text").attr("x",p.left+W/2+p.capDx).attr("y",669).attr("text-anchor","middle").text(p.cap)
   .attr("font-family",SERIF).attr("font-size",20).attr("word-spacing",4).attr("fill","#111");
});

svg.append("text").attr("transform","translate(23,120) rotate(-90)").attr("text-anchor","middle")
 .text(yLeftTitle).attr("font-family",SANS).attr("font-size",19).attr("fill",INK);
svg.append("text").attr("transform","translate(1302,445) rotate(-90)").attr("text-anchor","middle")
 .text(yRightTitle).attr("font-family",SANS).attr("font-size",18.5).attr("letter-spacing",0.6).attr("fill",INK);
</script>
</body></html>
